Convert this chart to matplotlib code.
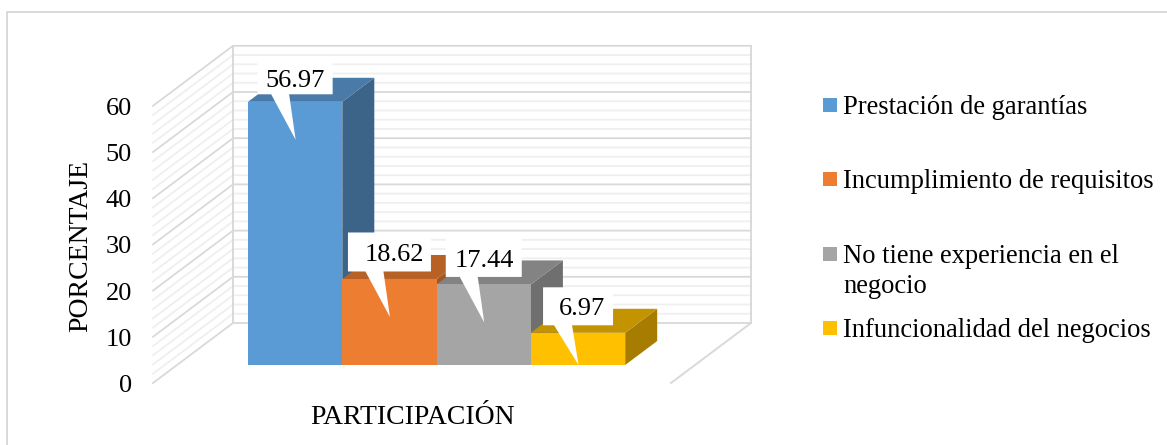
import numpy as np
import matplotlib.pyplot as plt

plt.rcParams['font.family'] = ['Liberation Serif', 'DejaVu Serif']

categorias = [['Prestación de garantías'], ['Incumplimiento de requisitos'],
              ['No tiene experiencia en el', 'negocio'], ['Infuncionalidad del negocios']]
valores = [56.97, 18.62, 17.44, 6.97]
etiquetas = ['56.97', '18.62', '17.44', '6.97']
ticks_y = [0, 10, 20, 30, 40, 50, 60]
minor_y = [v for v in range(0, 62, 2) if v % 10 != 0]

col_front = ['#5B9BD5', '#ED7D31', '#A5A5A5', '#FFC000']
col_top = ['#4A7AA8', '#B86125', '#838383', '#C49400']
col_side = ['#3B6488', '#A4571F', '#6F6F6F', '#A67D00']

W, H = 1167, 445
U = 4.62     # pixels per percent unit
Y0 = 383     # pixel row of value 0 at the front of the floor
FLOOR_X0, FLOOR_X1 = 153, 671
DX, DY = 80, 60 / U   # depth of the floor
BAR_X0, BAR_W = 224, 94.3
D0, D1 = 0.3, 0.7     # bars sit between these depths

def proj(x, v, d):  ## oblique projection of (x, value, depth)
    return x + DX * d, v + DY * d

def ypx(p):  ## pixel row to data y
    return (Y0 - p) / U

def poly(ax, pts, color, z):
    xs, ys = zip(*pts)
    ax.fill(xs, ys, color=color, lw=0, zorder=z)

fig = plt.figure(figsize=(W / 100, H / 100), dpi=100)
ax = fig.add_axes([0, 0, 1, 1])
ax.set_xlim(0, W)
ax.set_ylim(ypx(H), ypx(0))
ax.axis('off')

# outer frame, only left and top show in the crop
ax.plot([6.5, 6.5, W], [ypx(445), ypx(11.5), ypx(11.5)], color='#d9d9d9', lw=1.4)

# walls: minor lines first, then major
for vals, c in ((minor_y, '#efefef'), (ticks_y, '#d9d9d9')):
    for v in vals:
        a, b, e = proj(FLOOR_X0, v, 0), proj(FLOOR_X0, v, 1), proj(FLOOR_X1, v, 1)
        ax.plot([a[0], b[0], e[0]], [a[1], b[1], e[1]], color=c, lw=1.3, zorder=1)
bl, tl = proj(FLOOR_X0, 0, 1), proj(FLOOR_X0, 60, 1)
br, tr = proj(FLOOR_X1, 0, 1), proj(FLOOR_X1, 60, 1)
ax.plot([bl[0], tl[0]], [bl[1], tl[1]], color='#d9d9d9', lw=1.4, zorder=2)
ax.plot([br[0], tr[0]], [br[1], tr[1]], color='#d9d9d9', lw=1.4, zorder=2)
fr = proj(FLOOR_X1, 0, 0)
ax.plot([fr[0], br[0]], [fr[1], br[1]], color='#d9d9d9', lw=1.4, zorder=2)

# bars
for i, v in enumerate(valores):
    x0 = BAR_X0 + i * BAR_W
    x1 = x0 + BAR_W
    z = 3 + i
    poly(ax, [proj(x1, 0, D0), proj(x1, 0, D1), proj(x1, v, D1), proj(x1, v, D0)], col_side[i], z)
    poly(ax, [proj(x0, v, D0), proj(x1, v, D0), proj(x1, v, D1), proj(x0, v, D1)], col_top[i], z)
    poly(ax, [proj(x0, 0, D0), proj(x1, 0, D0), proj(x1, v, D0), proj(x0, v, D0)], col_front[i], z)

# callouts
box_w = [75, 83, 76, 70]
box_h = [33, 39, 38, 38]
txt_dx = [0, 5, 1, 4]
for i, v in enumerate(valores):
    cx = proj(BAR_X0 + (i + 0.5) * BAR_W, v, D0)[0]
    top = proj(0, v, D0)[1]
    y_low = top + 7.5 / U
    y_high = y_low + box_h[i] / U
    tip = max(top - 38 / U, proj(0, 0, D0)[1])
    w = box_w[i] / 2
    pts = [(cx - w, y_low), (cx - 24, y_low), (cx + 0.5, tip), (cx - 6, y_low), (cx + w, y_low),
           (cx + w, y_high), (cx - w, y_high)]
    poly(ax, pts, 'white', 10)
    ax.text(cx + txt_dx[i], (y_low + y_high) / 2 - 0.6, etiquetas[i], fontsize=19, ha='center', va='center',
            color='black', zorder=11)

# y tick labels
for v in ticks_y:
    ax.text(132, v - 3 / U, str(v), fontsize=19, ha='right', va='center', color='black')

ax.text(81, ypx(246), 'PORCENTAJE', fontsize=20, rotation=90, ha='center', va='center')
ax.text(413, ypx(418), 'PARTICIPACIÓN', fontsize=20, ha='center', va='center')

# legend
ley_y = [105, 179, 254, 328]
for i, lineas in enumerate(categorias):
    ax.fill([823, 837, 837, 823], [ypx(ley_y[i] - 7), ypx(ley_y[i] - 7), ypx(ley_y[i] + 7), ypx(ley_y[i] + 7)],
            color=col_front[i], lw=0)
    for j, t in enumerate(lineas):
        ax.text(843, ypx(ley_y[i] + 9 + 30 * j), t, fontsize=19.1, ha='left', va='baseline')

fig.savefig('out.png', dpi=100)
